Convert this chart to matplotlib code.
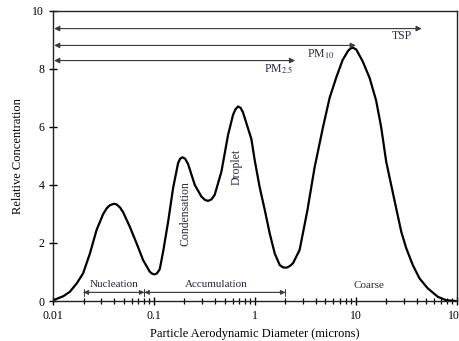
import matplotlib
matplotlib.use("Agg")
import matplotlib.pyplot as plt
from matplotlib.ticker import LogLocator, NullFormatter, FixedLocator, FixedFormatter

plt.rcParams['font.family'] = ['Liberation Serif', 'DejaVu Serif']
plt.rcParams['mathtext.fontset'] = 'stix'

# Particle size distribution curve
diameter = [0.010, 0.0126, 0.0146, 0.0171, 0.0198, 0.0231, 0.0269, 0.0313, 0.034, 0.0364,
            0.040, 0.0424, 0.046, 0.0493, 0.0574, 0.0670, 0.0778, 0.0906, 0.096, 0.1016,
            0.107, 0.1138, 0.1228, 0.1377, 0.1542, 0.1729, 0.181, 0.191, 0.203, 0.217,
            0.253, 0.294, 0.32, 0.343, 0.37, 0.399, 0.465, 0.541, 0.606, 0.64,
            0.679, 0.72, 0.76, 0.821, 0.921, 0.993, 1.11, 1.25, 1.40, 1.57,
            1.76, 1.9, 2.05, 2.2, 2.38, 2.77, 3.3, 3.9, 4.7, 5.5,
            6.4, 7.4, 8.4, 8.9, 9.4, 10.1, 11.7, 13.7, 15.9, 17.8,
            20.0, 22.4, 25.1, 28.2, 31.6, 36.7, 42.8, 51.6, 64.9, 78.5,
            98.6]
concentration = [0.03, 0.17, 0.32, 0.61, 0.96, 1.64, 2.45, 3.00, 3.20, 3.30,
                 3.35, 3.33, 3.22, 3.06, 2.56, 1.99, 1.41, 1.01, 0.94, 0.92,
                 0.96, 1.10, 1.70, 2.73, 3.89, 4.75, 4.90, 4.95, 4.90, 4.72,
                 4.00, 3.60, 3.48, 3.45, 3.50, 3.66, 4.46, 5.72, 6.41, 6.60,
                 6.70, 6.65, 6.50, 6.13, 5.58, 4.86, 3.94, 3.14, 2.33, 1.64,
                 1.24, 1.16, 1.15, 1.20, 1.30, 1.76, 3.1, 4.6, 5.95, 7.0,
                 7.7, 8.3, 8.62, 8.70, 8.72, 8.66, 8.25, 7.68, 6.9, 6.0,
                 4.80, 4.00, 3.20, 2.39, 1.82, 1.24, 0.78, 0.44, 0.15, 0.03,
                 0.0]

# Size-fraction arrows: (label, upper cut diameter, level)
fraction_labels = ['TSP', 'PM$_{10}$', 'PM$_{2.5}$']
fraction_cut = [45.0, 10.0, 2.5]
fraction_level = [9.38, 8.80, 8.28]

# Mode ranges
mode_names = ['Nucleation', 'Accumulation']
mode_start = [0.02, 0.08]
mode_end = [0.08, 2.0]

x_ticks = [0.01, 0.1, 1, 10, 100]
x_ticklabels = ['0.01', '0.1', '1', '10', '100']
y_ticks = [0, 2, 4, 6, 8, 10]

fig = plt.figure(figsize=(4.59, 3.41), dpi=100)
ax = fig.add_axes([0.116, 0.117, 0.879, 0.852])

ax.plot(diameter, concentration, color='black', lw=1.6, solid_joinstyle='round',
        solid_capstyle='round')
ax.set_xscale('log')
ax.set_xlim(0.01, 100)
ax.set_ylim(0, 10)

ax.xaxis.set_major_locator(FixedLocator(x_ticks))
ax.xaxis.set_major_formatter(FixedFormatter(x_ticklabels))
ax.xaxis.set_minor_locator(LogLocator(base=10, subs=range(2, 10)))
ax.xaxis.set_minor_formatter(NullFormatter())
ax.set_yticks(y_ticks)
ax.tick_params(axis='both', which='major', direction='inout', length=6, width=1.0,
               labelsize=8.5, colors='black', top=False, right=False)
ax.tick_params(axis='x', which='minor', direction='inout', length=5, width=0.9, top=False)
for s in ax.spines.values():
    s.set_linewidth(1.0)
    s.set_color('#222222')

ax.set_xlabel('Particle Aerodynamic Diameter (microns)', fontsize=9, labelpad=4)
ax.set_ylabel('Relative Concentration', fontsize=9, labelpad=6)

text_color = '#2a2a3a'
arrow_kw = dict(arrowstyle='<|-|>', color='#3a3a3a', lw=0.8, mutation_scale=8,
                shrinkA=0, shrinkB=0)
for cut, lev in zip(fraction_cut, fraction_level):
    ax.annotate('', xy=(cut, lev), xytext=(0.0102, lev), arrowprops=arrow_kw)

ax.text(28.9, 9.13, fraction_labels[0], fontsize=8.5, ha='center', va='center', color=text_color)
ax.text(4.5, 8.48, fraction_labels[1], fontsize=8.5, ha='center', va='center', color=text_color)
ax.text(1.72, 7.97, fraction_labels[2], fontsize=8.5, ha='center', va='center', color=text_color)

mode_level = 0.30
for s, e in zip(mode_start, mode_end):
    ax.annotate('', xy=(e, mode_level), xytext=(s, mode_level),
                arrowprops=dict(arrowstyle='<|-|>', color='#3a3a3a', lw=0.7,
                                mutation_scale=7, shrinkA=0, shrinkB=0))
    ax.annotate('', xy=(e, mode_level), xytext=(s, mode_level),
                arrowprops=dict(arrowstyle='|-|,widthA=0.25,widthB=0.25', color='#3a3a3a',
                                lw=0.7, shrinkA=0, shrinkB=0))

ax.text(0.040, 0.58, mode_names[0], fontsize=8, ha='center', va='center', color=text_color)
ax.text(0.41, 0.58, mode_names[1], fontsize=8, ha='center', va='center', color=text_color)
ax.text(13.4, 0.52, 'Coarse', fontsize=8, ha='center', va='center', color=text_color)
ax.text(0.206, 3.02, 'Condensation', fontsize=8.5, ha='center', va='center',
        rotation=90, color=text_color)
ax.text(0.66, 4.63, 'Droplet', fontsize=8.5, ha='center', va='center',
        rotation=90, color=text_color)

fig.savefig('out.png', dpi=100)
